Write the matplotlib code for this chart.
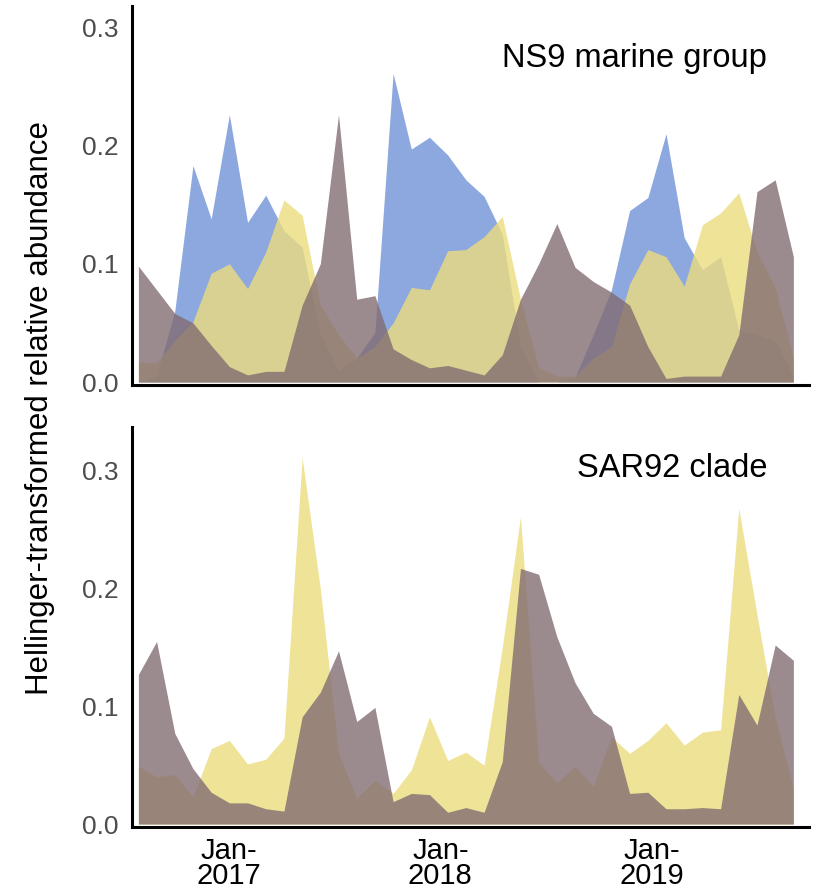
import numpy as np
import pandas as pd
import matplotlib
matplotlib.use('Agg')
import matplotlib.pyplot as plt

plt.rcParams['font.family'] = ['Liberation Sans', 'DejaVu Sans']

# sampling dates (roughly monthly)
dates = pd.date_range('2016-07-29', '2019-09-02', periods=37)

# NS9 marine group
ns9_blue = [0.0, 0.005, 0.06, 0.183, 0.138, 0.226, 0.135, 0.158, 0.128, 0.114,
            0.04, 0.01, 0.02, 0.042, 0.261, 0.197, 0.207, 0.192, 0.171, 0.157,
            0.125, 0.03, 0.0, 0.0, 0.004, 0.04, 0.078, 0.145, 0.156, 0.21,
            0.122, 0.095, 0.106, 0.044, 0.04, 0.035, 0.005]
ns9_yellow = [0.017, 0.016, 0.035, 0.051, 0.092, 0.100, 0.079, 0.110, 0.154, 0.141,
              0.065, 0.04, 0.02, 0.03, 0.05, 0.080, 0.078, 0.111, 0.112, 0.123,
              0.140, 0.07, 0.012, 0.005, 0.005, 0.02, 0.03, 0.083, 0.112, 0.106,
              0.081, 0.133, 0.143, 0.160, 0.11, 0.08, 0.02]
ns9_brown = [0.098, 0.078, 0.058, 0.050, 0.031, 0.013, 0.006, 0.009, 0.009, 0.065,
             0.100, 0.226, 0.070, 0.073, 0.028, 0.019, 0.012, 0.014, 0.010, 0.006,
             0.023, 0.070, 0.100, 0.134, 0.097, 0.085, 0.076, 0.065, 0.030, 0.003,
             0.005, 0.005, 0.005, 0.040, 0.161, 0.171, 0.106]

# SAR92 clade
sar_yellow = [0.049, 0.040, 0.042, 0.023, 0.064, 0.071, 0.051, 0.055, 0.073, 0.311,
              0.200, 0.060, 0.022, 0.037, 0.026, 0.046, 0.091, 0.054, 0.061, 0.050,
              0.150, 0.261, 0.052, 0.035, 0.049, 0.032, 0.074, 0.060, 0.071, 0.086,
              0.067, 0.078, 0.080, 0.268, 0.178, 0.090, 0.030]
sar_brown = [0.127, 0.155, 0.077, 0.047, 0.027, 0.018, 0.018, 0.013, 0.011, 0.091,
             0.112, 0.147, 0.087, 0.099, 0.019, 0.026, 0.025, 0.010, 0.014, 0.010,
             0.053, 0.217, 0.212, 0.159, 0.120, 0.094, 0.083, 0.026, 0.027, 0.013,
             0.013, 0.014, 0.013, 0.110, 0.084, 0.152, 0.139]

panels = [
    ('NS9 marine group', [ns9_blue, ns9_yellow, ns9_brown], ['#6f92d8', '#ecdc7e', '#826d72'], 0.318, 67),
    ('SAR92 clade', [sar_yellow, sar_brown], ['#ecdc7e', '#826d72'], 0.337, 477),
]

tick_dates = pd.to_datetime(['2017-01-01', '2018-01-01', '2019-01-01'])
tick_labels = ['Jan-\n2017', 'Jan-\n2018', 'Jan-\n2019']

fig = plt.figure(figsize=(8.21, 8.93), dpi=100)
ax_top = fig.add_axes([0.1608, 0.5689, 0.8246, 0.4244])
ax_bot = fig.add_axes([0.1608, 0.0739, 0.8246, 0.4479])

xmin = dates[0] - pd.Timedelta(days=11)
xmax = dates[-1] + pd.Timedelta(days=27)

for ax, (title, series, cols, ytop, title_y) in zip([ax_top, ax_bot], panels):
    # overlapping areas, later ones on top
    for vals, c in zip(series, cols):
        ax.fill_between(dates, 0, vals, color=c, alpha=0.8, linewidth=0)
    ax.set_xlim(xmin, xmax)
    ax.set_ylim(-0.0025, ytop)
    ax.set_yticks([0.0, 0.1, 0.2, 0.3])
    ax.set_yticklabels(['0.0', '0.1', '0.2', '0.3'])
    for s in ['top', 'right']:
        ax.spines[s].set_visible(False)
    for s in ['left', 'bottom']:
        ax.spines[s].set_linewidth(2.2)
        ax.spines[s].set_color('black')
    ax.tick_params(axis='y', length=0, pad=10, labelsize=19, labelcolor='#4d4d4d')
    ax.tick_params(axis='x', length=0, pad=7, labelsize=21, labelcolor='black')
    ax.set_xticks(tick_dates)
    fig.text(767 / 821, 1 - title_y / 893, title, ha='right', va='baseline',
             fontsize=23.5, color='black')

ax_top.set_xticklabels([])
ax_bot.set_xticklabels(tick_labels, linespacing=0.88)

fig.text(40 / 821, 1 - 408 / 893, 'Hellinger-transformed relative abundance',
         rotation=90, ha='center', va='center', fontsize=22.5, color='black')

fig.savefig('out.png', dpi=100)
